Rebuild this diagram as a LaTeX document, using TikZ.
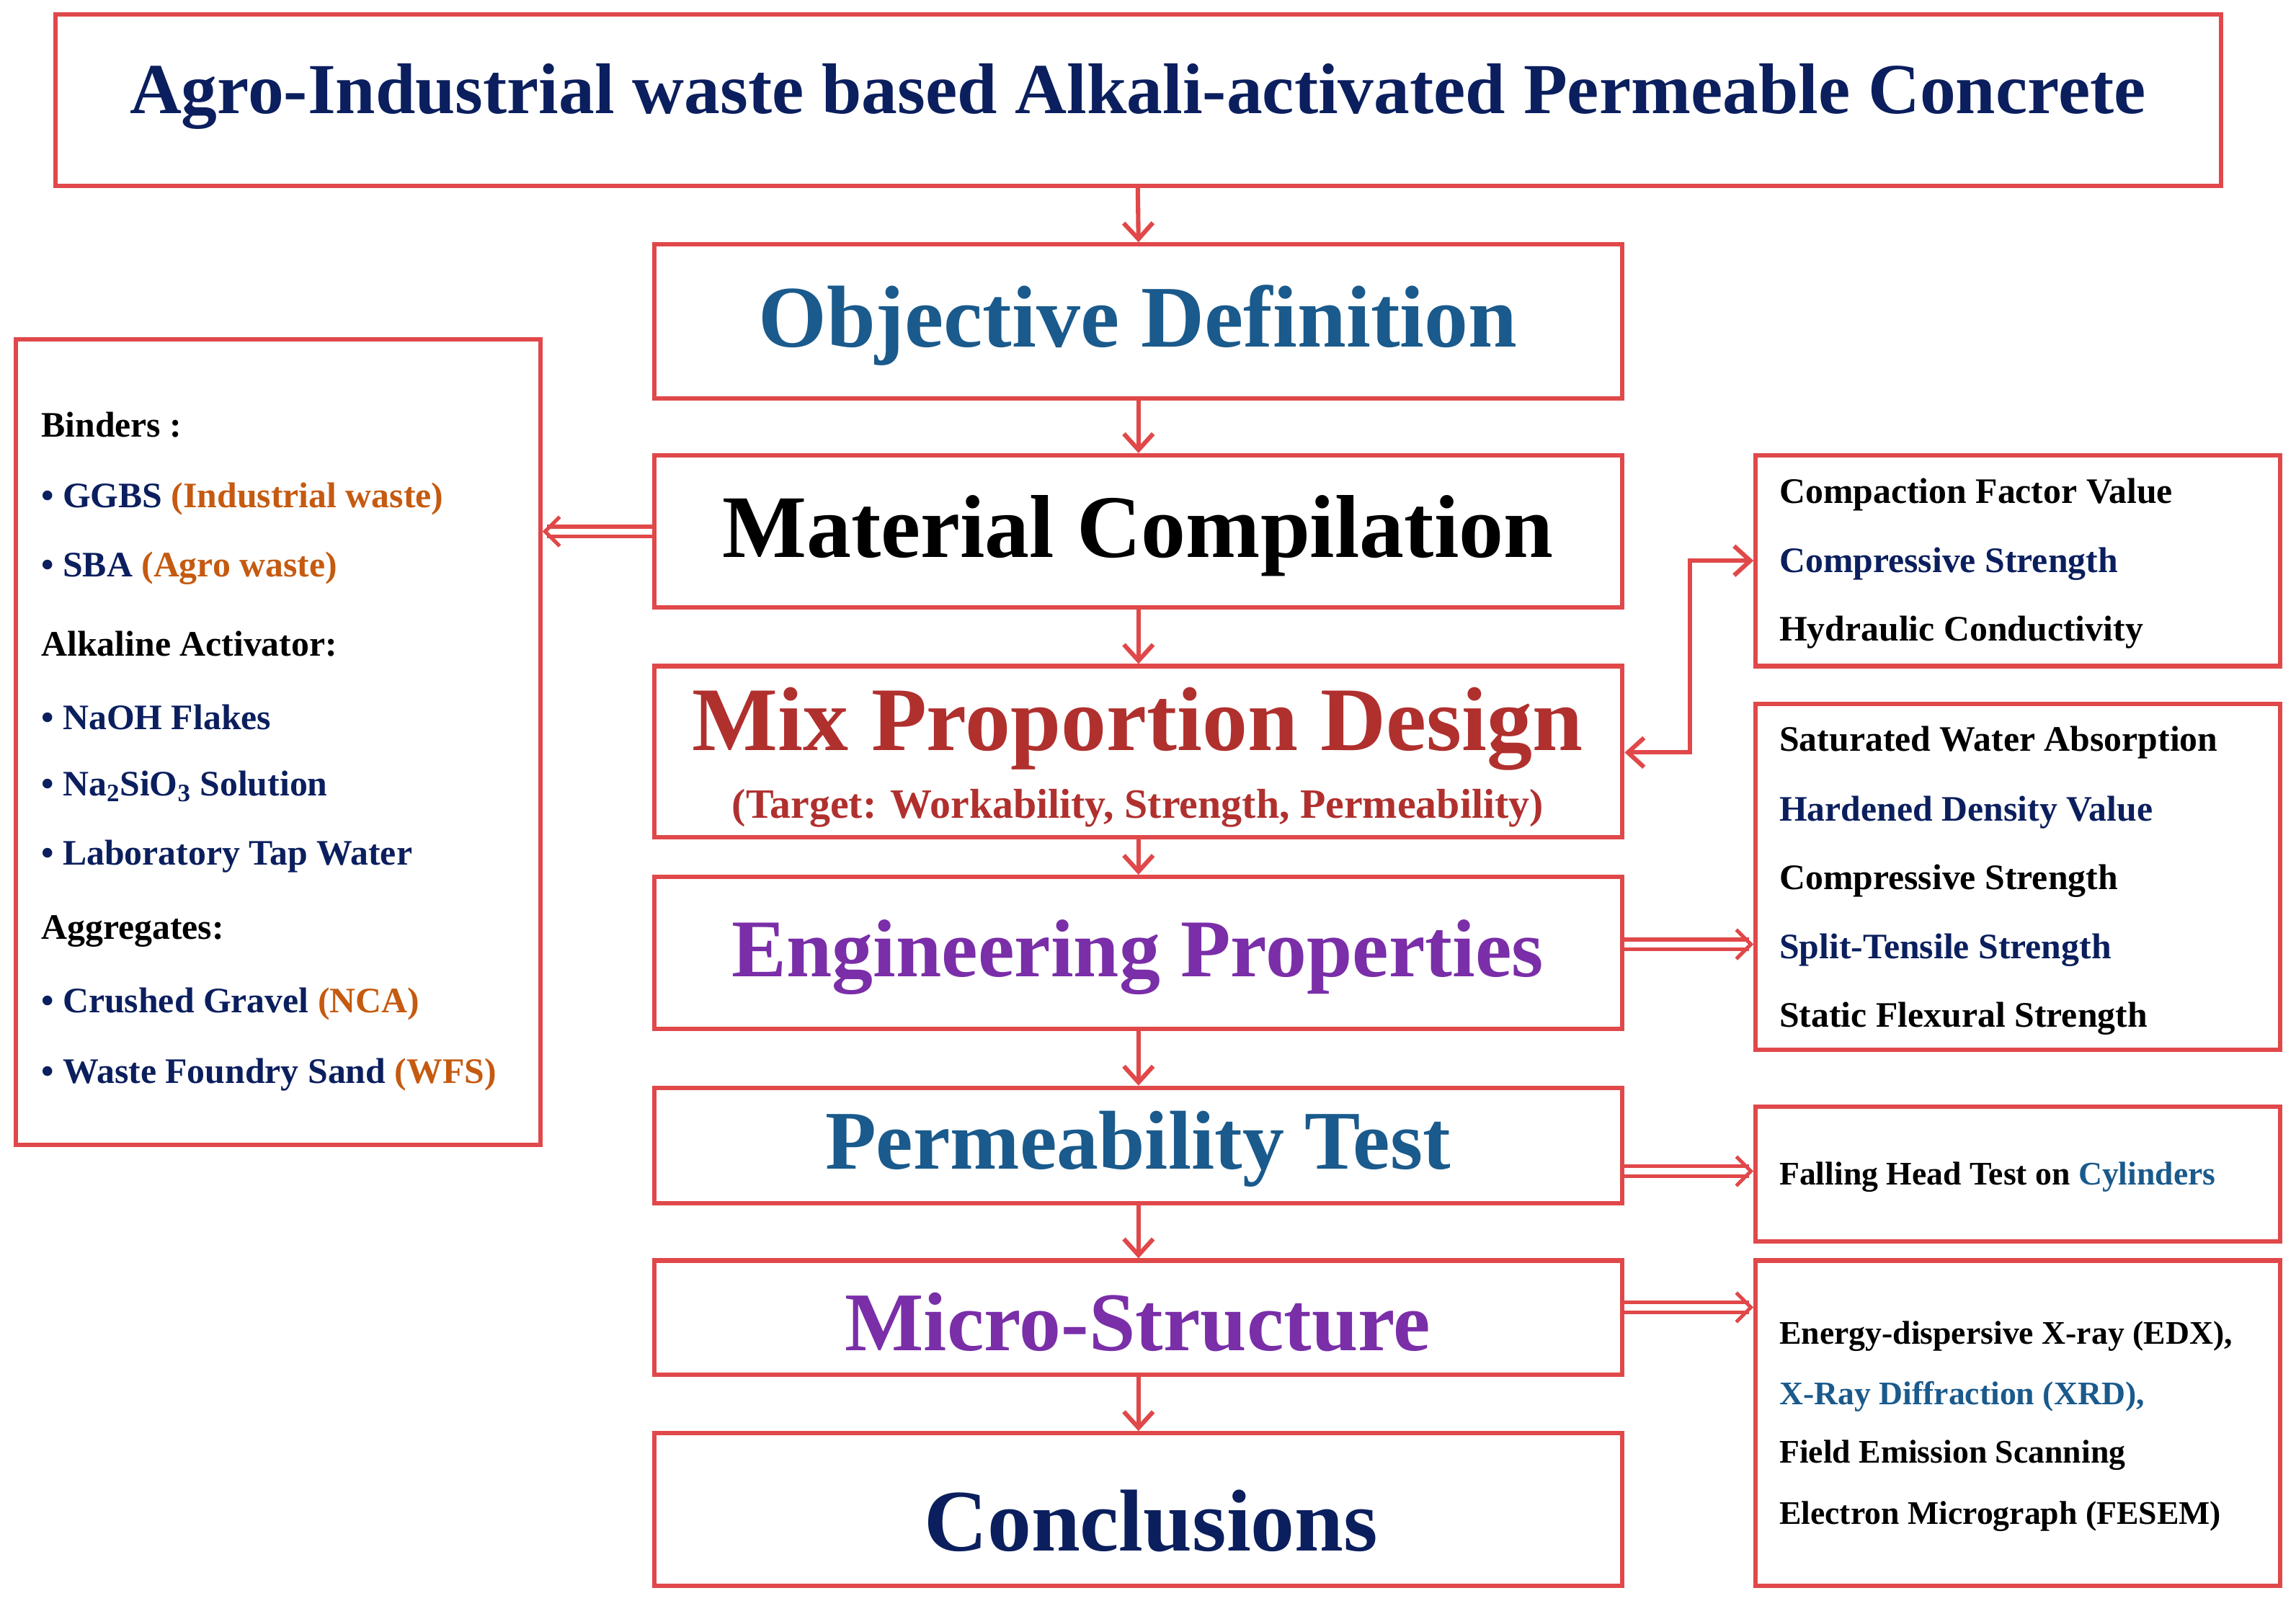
\documentclass[tikz,border=0pt]{standalone}
\usepackage{fontspec}
\setmainfont{Liberation Serif}
\usetikzlibrary{arrows.meta}
\definecolor{bred}{HTML}{E0484A}
\definecolor{navy}{HTML}{0B1F5E}
\definecolor{oblue}{HTML}{1A5A8C}
\definecolor{mixred}{HTML}{B0302E}
\definecolor{purp}{HTML}{7A2EA8}
\definecolor{orng}{HTML}{C55A11}
\begin{document}
\begin{tikzpicture}[x=1pt,y=-1pt,
 box/.style={draw=bred,line width=3pt},
 arr/.style={draw=bred,line width=3pt,-{Straight Barb[length=11pt,width=20pt]}},
 darr/.style={draw=bred,line width=2.5pt,double=white,double distance=4pt,-{Straight Barb[length=10pt,width=20pt]}},
 sm/.style={anchor=west,font=\fontsize{24.5}{28}\selectfont\bfseries,inner sep=0pt},
 sn/.style={anchor=west,font=\fontsize{22.5}{26}\selectfont\bfseries,inner sep=0pt}]
\useasboundingbox (0,0) rectangle (1568,1097);
\draw[box] (38,10) rectangle (1517,127);
\node at (777,66) {\fontsize{49}{52}\selectfont\bfseries\color{navy}Agro-Industrial waste based Alkali-activated Permeable Concrete};
\node[box,minimum width=661,minimum height=105] (obj) at (777.5,219.5) {}; \node at (777,222) {\fontsize{60}{62}\selectfont\bfseries\color{oblue}Objective Definition};
\node[box,minimum width=661,minimum height=104] (mat) at (777.5,363) {}; \node at (777,366) {\fontsize{61}{62}\selectfont\bfseries Material Compilation};
\node[box,minimum width=661,minimum height=117] (mix) at (777.5,513.5) {};
\node at (777,498) {\fontsize{62}{62}\selectfont\bfseries\color{mixred}Mix Proportion Design};
\node at (777,552) {\fontsize{28.5}{30}\selectfont\bfseries\color{mixred}(Target: Workability, Strength, Permeability)};
\node[box,minimum width=661,minimum height=104] (eng) at (777.5,651) {}; \node at (777,654) {\fontsize{56}{58}\selectfont\bfseries\color{purp}Engineering Properties};
\node[box,minimum width=661,minimum height=79] (perm) at (777.5,782.5) {}; \node at (777,785) {\fontsize{57}{58}\selectfont\bfseries\color{oblue}Permeability Test};
\node[box,minimum width=661,minimum height=78] (mic) at (777.5,900) {}; \node at (777,903) {\fontsize{57}{58}\selectfont\bfseries\color{purp}Micro-Structure};
\node[box,minimum width=661,minimum height=104] (con) at (777.5,1031) {}; \node at (786,1039) {\fontsize{60}{62}\selectfont\bfseries\color{navy}Conclusions};
\coordinate (t0) at (777,127);
\draw[arr] (t0) -- (obj.north);
\draw[arr] (obj.south) -- (mat.north);
\draw[arr] (mat.south) -- (mix.north);
\draw[arr] (mix.south) -- (eng.north);
\draw[arr] (eng.south) -- (perm.north);
\draw[arr] (perm.south) -- (mic.north);
\draw[arr] (mic.south) -- (con.north);
\node[box,minimum width=358,minimum height=550] (left) at (190,507) {};
\node[sm] at (28,290) {Binders :};
\node[sm] at (28,341) {\color{navy}• GGBS \color{orng}(Industrial waste)};
\node[sm] at (28,388) {\color{navy}• SBA \color{orng}(Agro waste)};
\node[sm] at (28,440) {Alkaline Activator:};
\node[sm] at (28,490) {\color{navy}• NaOH Flakes};
\node[sm] at (28,537) {\color{navy}• Na\textsubscript{2}SiO\textsubscript{3} Solution};
\node[sm] at (28,585) {\color{navy}• Laboratory Tap Water};
\node[sm] at (28,636) {Aggregates:};
\node[sm] at (28,686) {\color{navy}• Crushed Gravel \color{orng}(NCA)};
\node[sm] at (28,734) {\color{navy}• Waste Foundry Sand \color{orng}(WFS)};
\draw[darr] (mat.west) -- (left.east|-mat.west);
\node[box,minimum width=358,minimum height=144] (r1) at (1378,383) {};
\node[sm] at (1215,338) {Compaction Factor Value};
\node[sm] at (1215,385) {\color{navy}Compressive Strength};
\node[sm] at (1215,432) {Hydraulic Conductivity};
\node[box,minimum width=358,minimum height=236] (r2) at (1378,599) {};
\node[sm] at (1215,507) {Saturated Water Absorption};
\node[sm] at (1215,555) {\color{navy}Hardened Density Value};
\node[sm] at (1215,602) {Compressive Strength};
\node[sm] at (1215,649) {\color{navy}Split-Tensile Strength};
\node[sm] at (1215,696) {Static Flexural Strength};
\node[box,minimum width=358,minimum height=92] (r3) at (1378,802) {};
\node[sn] at (1215,804) {Falling Head Test on \color{oblue}Cylinders};
\node[box,minimum width=358,minimum height=222] (r4) at (1378,972) {};
\node[sn] at (1215,913) {Energy-dispersive X-ray (EDX),};
\node[sn] at (1215,954) {\color{oblue}X-Ray Diffraction (XRD),};
\node[sn] at (1215,994) {Field Emission Scanning};
\node[sn] at (1215,1036) {Electron Micrograph (FESEM)};
\coordinate (k1) at (1154,383);
\coordinate (k2) at (1154,514);
\draw[arr,{Straight Barb[length=11pt,width=20pt]}-{Straight Barb[length=11pt,width=20pt]}] (r1.west|-k1) -- (k1) -- (k2) -- (mix.east|-k2);
\draw[darr] (eng.east|-0,645) -- (r2.west|-0,645);
\draw[darr] (perm.east|-0,800) -- (r3.west|-0,800);
\draw[darr] (mic.east|-0,893) -- (r4.west|-0,893);
\end{tikzpicture}
\end{document}
